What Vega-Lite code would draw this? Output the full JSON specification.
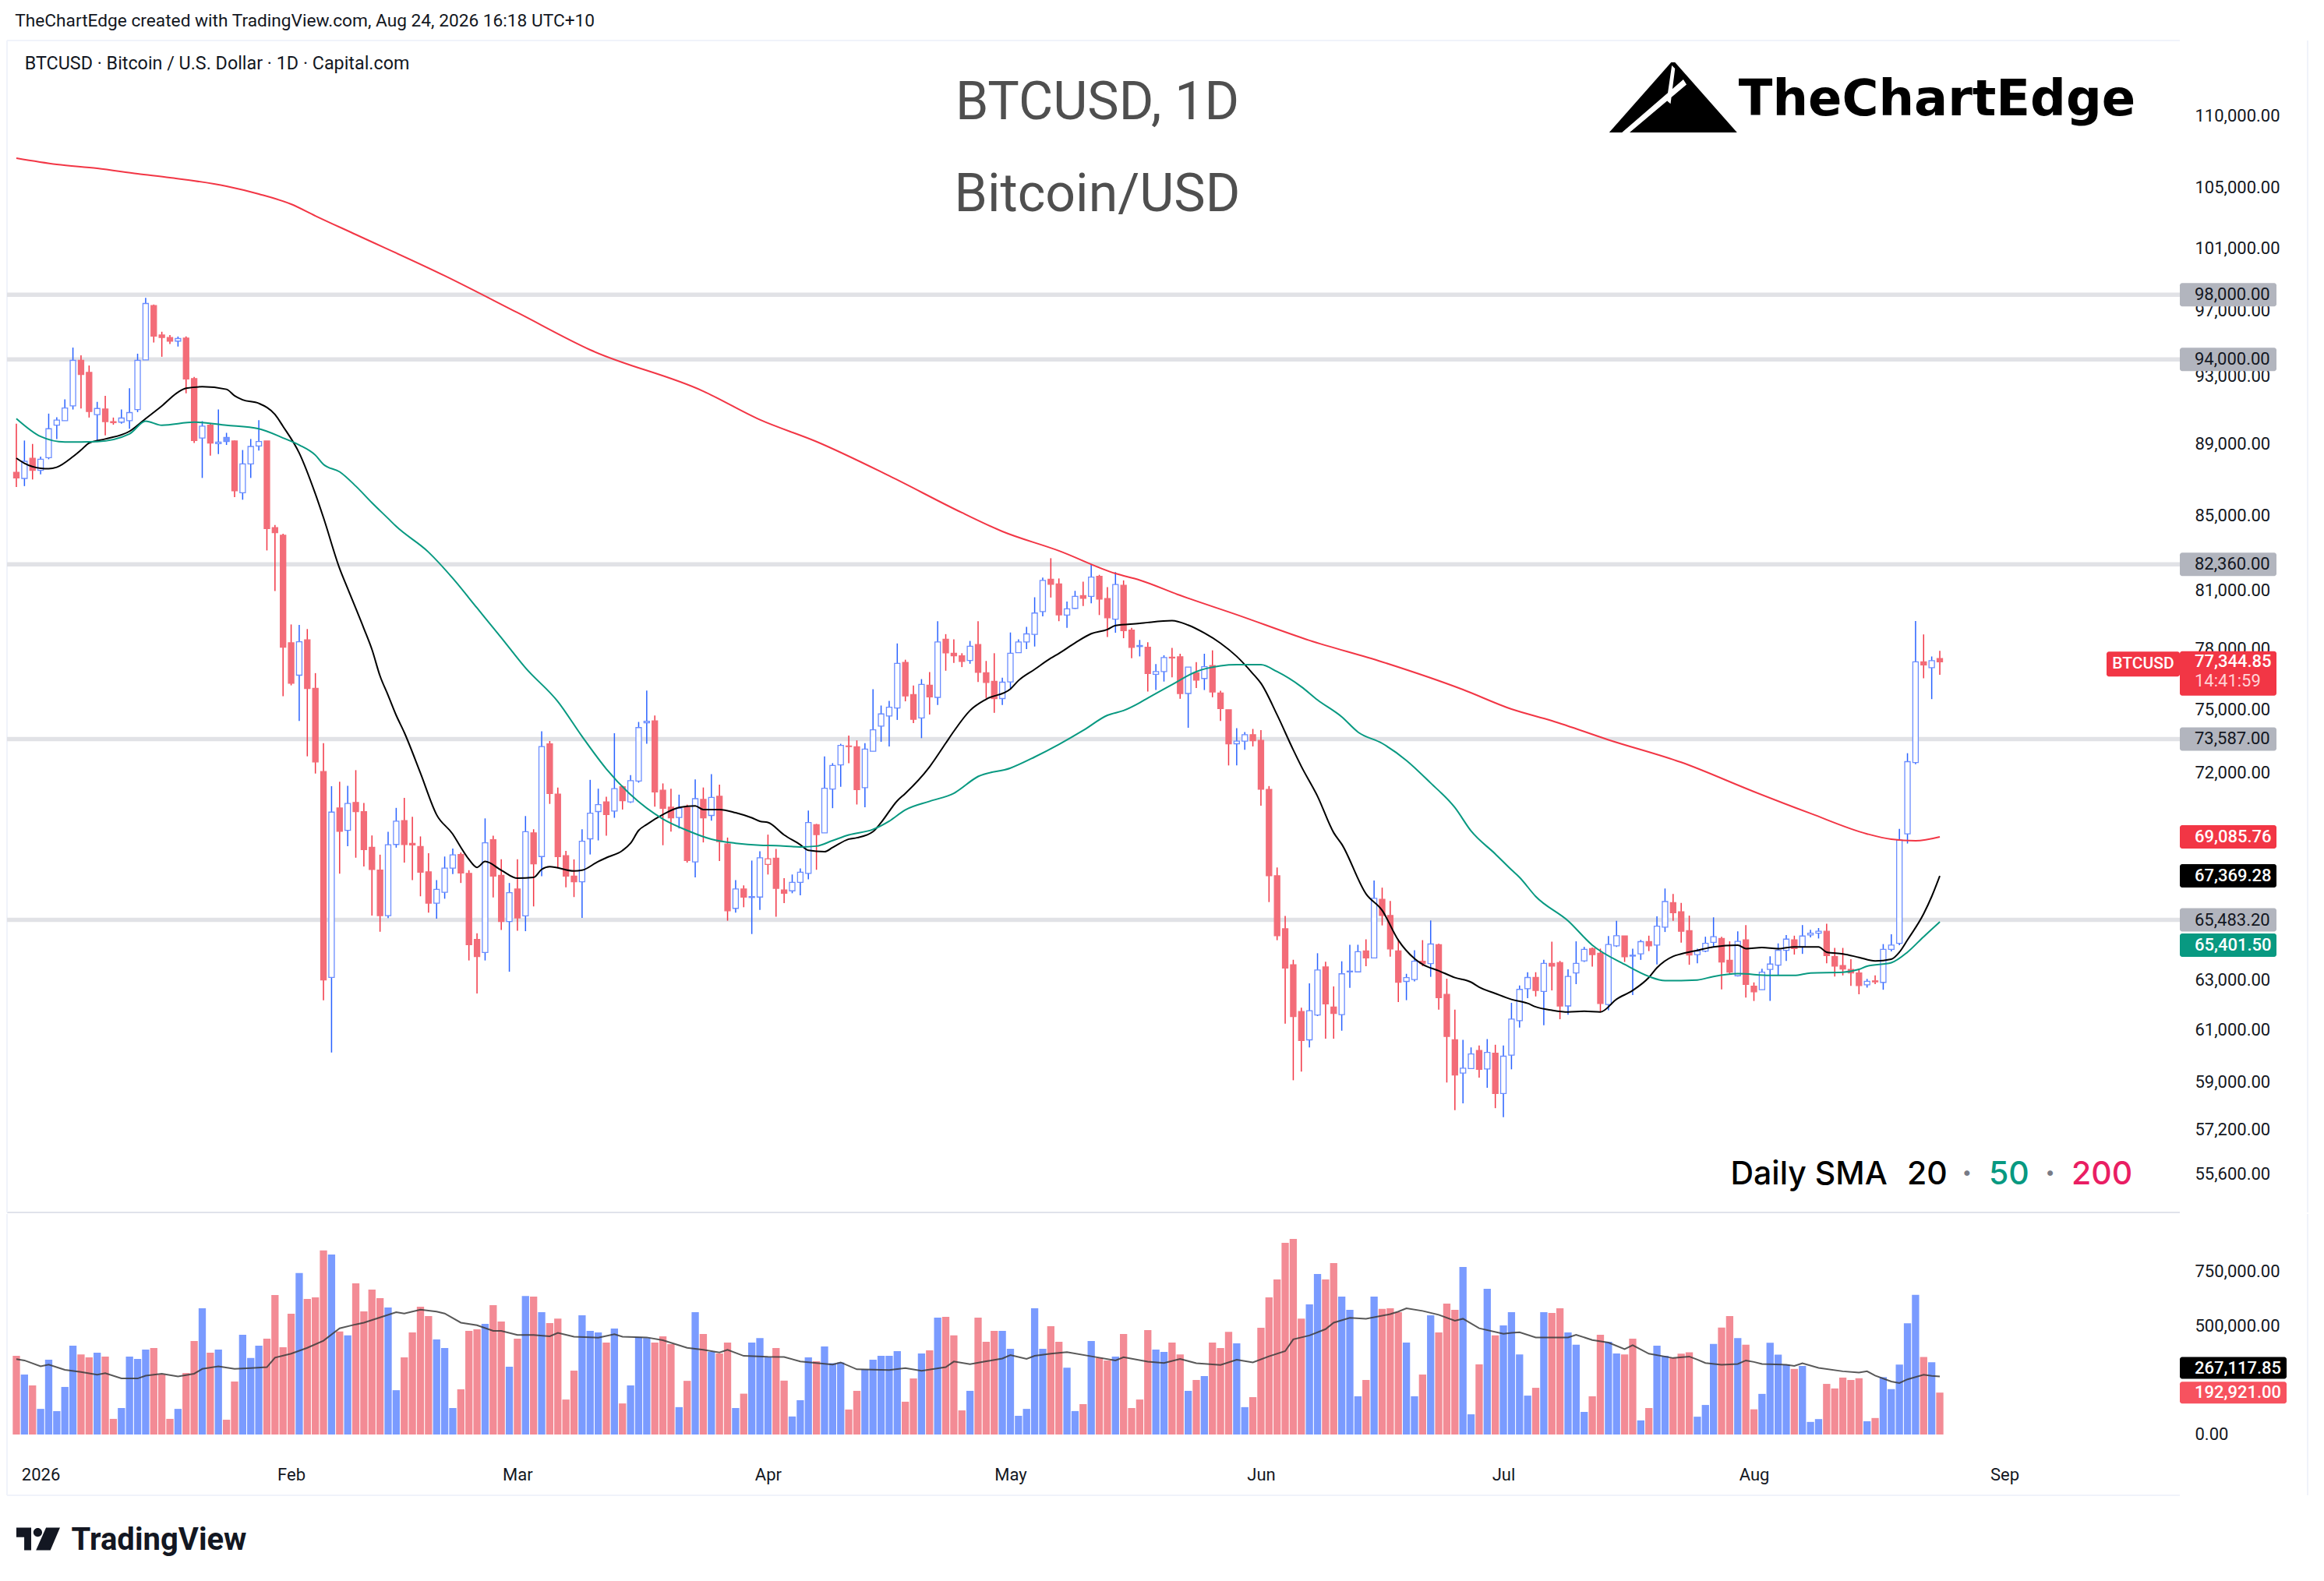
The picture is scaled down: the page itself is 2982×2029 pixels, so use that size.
{
  "$schema": "https://vega.github.io/schema/vega-lite/v6.json",
  "background": "#ffffff",
  "padding": {"left": 6, "top": 16, "right": 0, "bottom": 0},
  "title": {"text": "TheChartEdge created with TradingView.com, Aug 24, 2026 16:18 UTC+10", "anchor": "start", "dx": 13, "offset": 12, "fontSize": 22.7, "fontWeight": "normal", "font": "Roboto", "color": "#131722"},
  "config": {"view": {"stroke": null}, "font": "Roboto", "tick": {"opacity": 1}, "text": {"font": "Roboto"}},
  "datasets": {
    "levels": [
      {"price": 98000}, {"price": 94000}, {"price": 82360}, {"price": 73587}, {"price": 65483.2}
    ],
    "ohlc": [
      {"date":"2025-12-29","open":87400,"high":90180,"low":86570,"close":87080,"volume":362000},
      {"date":"2025-12-30","open":87053,"high":89207,"low":86623,"close":88021,"volume":276000},
      {"date":"2025-12-31","open":88196,"high":89011,"low":86995,"close":87511,"volume":226000},
      {"date":"2026-01-01","open":87511,"high":88283,"low":87282,"close":88138,"volume":118000},
      {"date":"2026-01-02","open":88225,"high":90768,"low":88138,"close":89887,"volume":344000},
      {"date":"2026-01-03","open":90094,"high":90557,"low":89296,"close":90390,"volume":108000},
      {"date":"2026-01-04","open":90360,"high":91610,"low":90360,"close":91099,"volume":219000},
      {"date":"2026-01-05","open":91219,"high":94717,"low":91009,"close":93940,"volume":409000},
      {"date":"2026-01-06","open":93940,"high":94251,"low":91069,"close":93090,"volume":369000},
      {"date":"2026-01-07","open":93212,"high":93629,"low":90539,"close":90889,"volume":355000},
      {"date":"2026-01-08","open":90708,"high":91460,"low":89148,"close":91069,"volume":377000},
      {"date":"2026-01-09","open":91039,"high":91821,"low":89503,"close":90300,"volume":359000},
      {"date":"2026-01-10","open":90300,"high":90539,"low":90124,"close":90242,"volume":72000},
      {"date":"2026-01-11","open":90271,"high":91009,"low":90183,"close":90509,"volume":122000},
      {"date":"2026-01-12","open":90360,"high":92264,"low":89887,"close":90828,"volume":359000},
      {"date":"2026-01-13","open":91009,"high":94345,"low":90858,"close":93940,"volume":348000},
      {"date":"2026-01-14","open":93971,"high":97802,"low":93971,"close":97449,"volume":391000},
      {"date":"2026-01-15","open":97320,"high":97384,"low":95028,"close":95426,"volume":398000},
      {"date":"2026-01-16","open":95489,"high":95690,"low":94158,"close":95333,"volume":276000},
      {"date":"2026-01-17","open":95333,"high":95489,"low":94935,"close":95115,"volume":72000},
      {"date":"2026-01-18","open":95115,"high":95396,"low":94780,"close":95271,"volume":118000},
      {"date":"2026-01-19","open":95302,"high":95396,"low":91971,"close":92815,"volume":283000},
      {"date":"2026-01-20","open":92845,"high":92937,"low":89062,"close":89207,"volume":430000},
      {"date":"2026-01-21","open":89354,"high":90330,"low":87081,"close":90035,"volume":581000},
      {"date":"2026-01-22","open":90094,"high":90183,"low":88342,"close":89062,"volume":377000},
      {"date":"2026-01-23","open":89032,"high":91009,"low":88429,"close":89120,"volume":391000},
      {"date":"2026-01-24","open":89384,"high":89650,"low":88953,"close":89148,"volume":68000},
      {"date":"2026-01-25","open":89178,"high":89207,"low":86008,"close":86366,"volume":244000},
      {"date":"2026-01-26","open":86250,"high":88662,"low":85866,"close":87876,"volume":459000},
      {"date":"2026-01-27","open":87876,"high":89296,"low":87081,"close":88866,"volume":352000},
      {"date":"2026-01-28","open":88895,"high":90390,"low":88633,"close":89148,"volume":409000},
      {"date":"2026-01-29","open":89178,"high":89178,"low":83103,"close":84280,"volume":441000},
      {"date":"2026-01-30","open":84335,"high":84474,"low":80951,"close":84058,"volume":642000},
      {"date":"2026-01-31","open":83920,"high":84003,"low":75650,"close":78072,"volume":402000},
      {"date":"2026-02-01","open":78295,"high":79229,"low":76178,"close":76278,"volume":556000},
      {"date":"2026-02-02","open":76680,"high":79203,"low":74448,"close":78346,"volume":743000},
      {"date":"2026-02-03","open":78449,"high":78996,"low":72770,"close":76028,"volume":624000},
      {"date":"2026-02-04","open":76028,"high":76781,"low":71967,"close":72507,"volume":631000},
      {"date":"2026-02-05","open":72061,"high":73386,"low":62173,"close":62998,"volume":847000},
      {"date":"2026-02-06","open":63102,"high":71378,"low":60120,"close":70198,"volume":829000},
      {"date":"2026-02-07","open":70383,"high":71591,"low":67469,"close":69332,"volume":474000},
      {"date":"2026-02-08","open":69378,"high":71402,"low":68672,"close":70592,"volume":456000},
      {"date":"2026-02-09","open":70638,"high":72124,"low":68164,"close":70221,"volume":696000},
      {"date":"2026-02-10","open":70221,"high":70615,"low":67783,"close":68522,"volume":567000},
      {"date":"2026-02-11","open":68626,"high":69150,"low":65666,"close":67648,"volume":667000},
      {"date":"2026-02-12","open":67626,"high":68298,"low":64986,"close":65666,"volume":628000},
      {"date":"2026-02-13","open":65666,"high":69311,"low":65560,"close":68737,"volume":585000},
      {"date":"2026-02-14","open":68750,"high":70390,"low":68608,"close":69787,"volume":204000},
      {"date":"2026-02-15","open":69812,"high":70847,"low":67949,"close":68750,"volume":355000},
      {"date":"2026-02-16","open":68800,"high":69988,"low":67184,"close":68730,"volume":470000},
      {"date":"2026-02-17","open":68661,"high":69107,"low":66490,"close":67531,"volume":588000},
      {"date":"2026-02-18","open":67549,"high":68359,"low":65788,"close":66195,"volume":545000},
      {"date":"2026-02-19","open":66195,"high":67184,"low":65534,"close":66785,"volume":438000},
      {"date":"2026-02-20","open":66660,"high":68216,"low":66385,"close":67705,"volume":398000},
      {"date":"2026-02-21","open":67705,"high":68570,"low":67445,"close":68289,"volume":122000},
      {"date":"2026-02-22","open":68307,"high":68393,"low":67063,"close":67497,"volume":208000},
      {"date":"2026-02-23","open":67480,"high":67618,"low":63794,"close":64451,"volume":477000},
      {"date":"2026-02-24","open":64667,"high":64925,"low":62452,"close":63958,"volume":484000},
      {"date":"2026-02-25","open":64123,"high":69915,"low":63794,"close":68822,"volume":509000},
      {"date":"2026-02-26","open":68963,"high":69142,"low":66439,"close":67358,"volume":595000},
      {"date":"2026-02-27","open":67393,"high":68092,"low":65061,"close":65416,"volume":520000},
      {"date":"2026-02-28","open":65416,"high":67063,"low":63332,"close":66643,"volume":312000},
      {"date":"2026-03-01","open":66803,"high":68092,"low":65027,"close":65568,"volume":441000},
      {"date":"2026-03-02","open":65653,"high":70021,"low":65010,"close":69320,"volume":638000},
      {"date":"2026-03-03","open":69267,"high":69427,"low":66056,"close":67896,"volume":635000},
      {"date":"2026-03-04","open":68216,"high":73958,"low":67358,"close":73227,"volume":563000},
      {"date":"2026-03-05","open":73361,"high":73491,"low":70571,"close":71048,"volume":513000},
      {"date":"2026-03-06","open":71015,"high":71322,"low":67705,"close":68216,"volume":534000},
      {"date":"2026-03-07","open":68252,"high":68465,"low":66872,"close":67358,"volume":161000},
      {"date":"2026-03-08","open":67358,"high":68092,"low":66457,"close":67115,"volume":294000},
      {"date":"2026-03-09","open":67115,"high":69427,"low":65568,"close":68893,"volume":549000},
      {"date":"2026-03-10","open":69000,"high":71674,"low":68307,"close":70152,"volume":477000},
      {"date":"2026-03-11","open":70225,"high":71267,"low":68929,"close":70536,"volume":470000},
      {"date":"2026-03-12","open":70664,"high":70902,"low":69142,"close":70085,"volume":423000},
      {"date":"2026-03-13","open":70244,"high":73862,"low":69941,"close":71267,"volume":488000},
      {"date":"2026-03-14","open":71358,"high":71413,"low":70316,"close":70719,"volume":143000},
      {"date":"2026-03-15","open":70664,"high":71898,"low":70610,"close":71636,"volume":226000},
      {"date":"2026-03-16","open":71618,"high":74401,"low":71545,"close":74131,"volume":448000},
      {"date":"2026-03-17","open":74365,"high":75918,"low":73362,"close":74438,"volume":444000},
      {"date":"2026-03-18","open":74456,"high":74708,"low":70445,"close":71121,"volume":423000},
      {"date":"2026-03-19","open":71194,"high":71509,"low":68715,"close":70371,"volume":452000},
      {"date":"2026-03-20","open":70426,"high":71267,"low":69320,"close":69941,"volume":416000},
      {"date":"2026-03-21","open":69959,"high":70993,"low":69463,"close":70371,"volume":126000},
      {"date":"2026-03-22","open":70408,"high":70536,"low":67949,"close":68039,"volume":247000},
      {"date":"2026-03-23","open":67984,"high":71693,"low":67306,"close":70810,"volume":563000},
      {"date":"2026-03-24","open":70774,"high":71322,"low":68840,"close":69941,"volume":463000},
      {"date":"2026-03-25","open":70048,"high":71935,"low":69812,"close":70865,"volume":380000},
      {"date":"2026-03-26","open":70920,"high":71450,"low":68021,"close":68876,"volume":373000},
      {"date":"2026-03-27","open":68769,"high":69056,"low":65450,"close":65873,"volume":423000},
      {"date":"2026-03-28","open":65974,"high":67184,"low":65788,"close":66803,"volume":122000},
      {"date":"2026-03-29","open":66803,"high":66959,"low":66022,"close":66457,"volume":188000},
      {"date":"2026-03-30","open":66439,"high":68039,"low":64891,"close":66474,"volume":423000},
      {"date":"2026-03-31","open":66457,"high":68445,"low":65906,"close":68160,"volume":444000},
      {"date":"2026-04-01","open":67871,"high":69187,"low":67430,"close":68120,"volume":355000},
      {"date":"2026-04-02","open":68143,"high":68552,"low":65621,"close":66833,"volume":398000},
      {"date":"2026-04-03","open":66763,"high":67271,"low":66195,"close":66620,"volume":248000},
      {"date":"2026-04-04","open":66724,"high":67430,"low":66620,"close":67093,"volume":83000},
      {"date":"2026-04-05","open":67093,"high":67697,"low":66529,"close":67527,"volume":158000},
      {"date":"2026-04-06","open":67478,"high":70273,"low":67222,"close":69730,"volume":355000},
      {"date":"2026-04-07","open":69629,"high":69667,"low":67636,"close":69187,"volume":337000},
      {"date":"2026-04-08","open":69263,"high":72763,"low":69263,"close":71289,"volume":405000},
      {"date":"2026-04-09","open":71251,"high":72450,"low":70377,"close":72345,"volume":328000},
      {"date":"2026-04-10","open":72371,"high":73361,"low":71354,"close":73282,"volume":332000},
      {"date":"2026-04-11","open":73256,"high":73749,"low":72450,"close":73230,"volume":115000},
      {"date":"2026-04-12","open":73216,"high":73522,"low":70544,"close":71225,"volume":201000},
      {"date":"2026-04-13","open":71315,"high":73389,"low":70417,"close":73111,"volume":300000},
      {"date":"2026-04-14","open":73006,"high":75989,"low":73006,"close":74028,"volume":344000},
      {"date":"2026-04-15","open":74203,"high":75193,"low":73455,"close":74786,"volume":362000},
      {"date":"2026-04-16","open":74690,"high":75423,"low":73230,"close":75112,"volume":362000},
      {"date":"2026-04-17","open":75071,"high":78265,"low":74499,"close":77267,"volume":384000},
      {"date":"2026-04-18","open":77308,"high":77448,"low":75397,"close":75657,"volume":151000},
      {"date":"2026-04-19","open":75725,"high":76166,"low":74350,"close":74526,"volume":258000},
      {"date":"2026-04-20","open":74593,"high":76486,"low":73629,"close":76221,"volume":373000},
      {"date":"2026-04-21","open":76180,"high":76831,"low":74759,"close":75616,"volume":387000},
      {"date":"2026-04-22","open":75589,"high":79396,"low":75220,"close":78338,"volume":538000},
      {"date":"2026-04-23","open":78474,"high":78736,"low":76900,"close":77787,"volume":542000},
      {"date":"2026-04-24","open":77773,"high":78474,"low":77289,"close":77647,"volume":456000},
      {"date":"2026-04-25","open":77647,"high":77773,"low":77081,"close":77358,"volume":111000},
      {"date":"2026-04-26","open":77413,"high":78391,"low":77247,"close":78124,"volume":201000},
      {"date":"2026-04-27","open":78208,"high":79396,"low":76348,"close":76817,"volume":538000},
      {"date":"2026-04-28","open":76803,"high":77386,"low":75559,"close":76320,"volume":427000},
      {"date":"2026-04-29","open":76375,"high":77773,"low":74840,"close":75532,"volume":477000},
      {"date":"2026-04-30","open":75532,"high":76555,"low":75220,"close":76334,"volume":477000},
      {"date":"2026-05-01","open":76348,"high":78820,"low":76042,"close":77773,"volume":395000},
      {"date":"2026-05-02","open":77801,"high":78474,"low":77801,"close":78338,"volume":86000},
      {"date":"2026-05-03","open":78338,"high":79108,"low":77984,"close":78750,"volume":118000},
      {"date":"2026-05-04","open":78722,"high":80631,"low":78110,"close":79815,"volume":581000},
      {"date":"2026-05-05","open":79887,"high":81658,"low":79640,"close":81513,"volume":395000},
      {"date":"2026-05-06","open":81571,"high":82687,"low":80617,"close":81310,"volume":499000},
      {"date":"2026-05-07","open":81324,"high":81615,"low":79396,"close":79725,"volume":427000},
      {"date":"2026-05-08","open":79711,"high":80404,"low":79053,"close":80027,"volume":308000},
      {"date":"2026-05-09","open":80056,"high":80966,"low":80027,"close":80677,"volume":108000},
      {"date":"2026-05-10","open":80720,"high":81441,"low":80173,"close":80575,"volume":140000},
      {"date":"2026-05-11","open":80677,"high":82358,"low":80317,"close":81687,"volume":430000},
      {"date":"2026-05-12","open":81731,"high":81805,"low":79711,"close":80532,"volume":352000},
      {"date":"2026-05-13","open":80561,"high":81155,"low":78595,"close":79568,"volume":341000},
      {"date":"2026-05-14","open":79497,"high":81950,"low":78805,"close":81300,"volume":359000},
      {"date":"2026-05-15","open":81257,"high":81513,"low":78529,"close":78918,"volume":463000},
      {"date":"2026-05-16","open":78946,"high":79053,"low":77523,"close":78068,"volume":122000},
      {"date":"2026-05-17","open":78160,"high":78442,"low":77614,"close":78110,"volume":161000},
      {"date":"2026-05-18","open":78074,"high":78326,"low":75874,"close":76761,"volume":481000},
      {"date":"2026-05-19","open":76723,"high":77232,"low":75949,"close":76855,"volume":391000},
      {"date":"2026-05-20","open":76855,"high":77670,"low":76365,"close":77555,"volume":380000},
      {"date":"2026-05-21","open":77574,"high":78037,"low":76572,"close":77536,"volume":423000},
      {"date":"2026-05-22","open":77594,"high":77746,"low":75521,"close":75780,"volume":369000},
      {"date":"2026-05-23","open":75780,"high":77083,"low":74122,"close":77083,"volume":201000},
      {"date":"2026-05-24","open":76799,"high":77327,"low":76044,"close":76440,"volume":251000},
      {"date":"2026-05-25","open":76516,"high":77746,"low":75949,"close":77102,"volume":269000},
      {"date":"2026-05-26","open":77159,"high":77918,"low":75595,"close":75855,"volume":423000},
      {"date":"2026-05-27","open":75799,"high":75911,"low":74447,"close":75043,"volume":398000},
      {"date":"2026-05-28","open":74988,"high":74988,"low":72344,"close":73363,"volume":473000},
      {"date":"2026-05-29","open":73363,"high":74105,"low":72344,"close":73489,"volume":420000},
      {"date":"2026-05-30","open":73489,"high":73922,"low":73074,"close":73795,"volume":126000},
      {"date":"2026-05-31","open":73795,"high":74067,"low":73237,"close":73507,"volume":172000},
      {"date":"2026-06-01","open":73525,"high":74013,"low":70493,"close":71246,"volume":491000},
      {"date":"2026-06-02","open":71228,"high":71387,"low":66242,"close":67375,"volume":631000},
      {"date":"2026-06-03","open":67375,"high":67736,"low":64633,"close":64824,"volume":714000},
      {"date":"2026-06-04","open":65110,"high":65652,"low":61242,"close":63481,"volume":882000},
      {"date":"2026-06-05","open":63621,"high":63822,"low":59051,"close":61530,"volume":900000},
      {"date":"2026-06-06","open":61727,"high":61878,"low":59383,"close":60581,"volume":534000},
      {"date":"2026-06-07","open":60610,"high":62860,"low":60316,"close":61757,"volume":599000},
      {"date":"2026-06-08","open":61591,"high":64092,"low":61546,"close":63404,"volume":739000},
      {"date":"2026-06-09","open":63528,"high":63745,"low":60654,"close":62030,"volume":714000},
      {"date":"2026-06-10","open":61908,"high":62736,"low":60654,"close":61652,"volume":789000},
      {"date":"2026-06-11","open":61606,"high":63760,"low":60969,"close":63247,"volume":635000},
      {"date":"2026-06-12","open":63326,"high":64443,"low":62674,"close":63357,"volume":574000},
      {"date":"2026-06-13","open":63326,"high":64443,"low":63326,"close":64157,"volume":176000},
      {"date":"2026-06-14","open":64188,"high":64666,"low":63559,"close":63900,"volume":251000},
      {"date":"2026-06-15","open":63900,"high":67174,"low":63900,"close":66405,"volume":635000},
      {"date":"2026-06-16","open":66357,"high":66861,"low":65253,"close":65672,"volume":578000},
      {"date":"2026-06-17","open":65672,"high":66292,"low":63947,"close":64268,"volume":581000},
      {"date":"2026-06-18","open":64188,"high":64666,"low":62105,"close":62907,"volume":563000},
      {"date":"2026-06-19","open":62938,"high":63247,"low":62181,"close":63093,"volume":423000},
      {"date":"2026-06-20","open":63015,"high":64220,"low":62938,"close":63760,"volume":176000},
      {"date":"2026-06-21","open":63760,"high":64635,"low":63559,"close":63667,"volume":276000},
      {"date":"2026-06-22","open":63667,"high":65460,"low":63124,"close":64474,"volume":549000},
      {"date":"2026-06-23","open":64443,"high":64489,"low":61804,"close":62286,"volume":470000},
      {"date":"2026-06-24","open":62412,"high":63046,"low":58965,"close":60742,"volume":603000},
      {"date":"2026-06-25","open":60610,"high":61804,"low":57926,"close":59253,"volume":574000},
      {"date":"2026-06-26","open":59325,"high":60610,"low":58180,"close":59512,"volume":771000},
      {"date":"2026-06-27","open":59498,"high":60316,"low":59498,"close":60063,"volume":93000},
      {"date":"2026-06-28","open":60196,"high":60390,"low":59152,"close":59469,"volume":323000},
      {"date":"2026-06-29","open":59484,"high":60640,"low":58764,"close":60121,"volume":671000},
      {"date":"2026-06-30","open":60092,"high":60419,"low":57998,"close":58546,"volume":456000},
      {"date":"2026-07-01","open":58546,"high":60390,"low":57658,"close":59974,"volume":502000},
      {"date":"2026-07-02","open":60018,"high":62076,"low":59469,"close":61424,"volume":563000},
      {"date":"2026-07-03","open":61365,"high":62771,"low":61093,"close":62615,"volume":369000},
      {"date":"2026-07-04","open":62643,"high":63312,"low":62260,"close":63096,"volume":179000},
      {"date":"2026-07-05","open":63096,"high":63312,"low":62330,"close":62573,"volume":215000},
      {"date":"2026-07-06","open":62531,"high":63818,"low":61184,"close":63674,"volume":563000},
      {"date":"2026-07-07","open":63674,"high":64572,"low":62573,"close":63559,"volume":560000},
      {"date":"2026-07-08","open":63703,"high":63775,"low":61421,"close":61950,"volume":581000},
      {"date":"2026-07-09","open":61950,"high":63428,"low":61600,"close":63139,"volume":470000},
      {"date":"2026-07-10","open":63283,"high":64586,"low":62827,"close":63674,"volume":413000},
      {"date":"2026-07-11","open":63775,"high":64355,"low":63732,"close":64254,"volume":104000},
      {"date":"2026-07-12","open":64283,"high":64326,"low":63544,"close":64036,"volume":176000},
      {"date":"2026-07-13","open":64094,"high":64283,"low":61697,"close":62049,"volume":459000},
      {"date":"2026-07-14","open":62007,"high":64807,"low":61780,"close":64456,"volume":427000},
      {"date":"2026-07-15","open":64398,"high":65445,"low":64355,"close":64822,"volume":373000},
      {"date":"2026-07-16","open":64807,"high":64807,"low":63732,"close":63950,"volume":369000},
      {"date":"2026-07-17","open":64010,"high":64283,"low":62388,"close":63975,"volume":441000},
      {"date":"2026-07-18","open":64065,"high":64645,"low":63818,"close":64572,"volume":65000},
      {"date":"2026-07-19","open":64572,"high":64822,"low":64181,"close":64398,"volume":122000},
      {"date":"2026-07-20","open":64427,"high":65637,"low":63631,"close":65222,"volume":409000},
      {"date":"2026-07-21","open":65178,"high":66824,"low":64976,"close":66264,"volume":362000},
      {"date":"2026-07-22","open":66219,"high":66590,"low":65445,"close":65788,"volume":352000},
      {"date":"2026-07-23","open":65831,"high":66204,"low":64529,"close":65005,"volume":372000},
      {"date":"2026-07-24","open":65034,"high":65666,"low":63617,"close":64022,"volume":378000},
      {"date":"2026-07-25","open":64036,"high":64283,"low":63674,"close":64181,"volume":82000},
      {"date":"2026-07-26","open":64181,"high":64778,"low":64137,"close":64500,"volume":136000},
      {"date":"2026-07-27","open":64543,"high":65593,"low":64326,"close":64778,"volume":417000},
      {"date":"2026-07-28","open":64705,"high":64778,"low":62615,"close":63732,"volume":492000},
      {"date":"2026-07-29","open":63803,"high":64586,"low":63226,"close":63312,"volume":545000},
      {"date":"2026-07-30","open":63168,"high":65005,"low":63139,"close":64586,"volume":444000},
      {"date":"2026-07-31","open":64645,"high":65267,"low":62289,"close":62813,"volume":413000},
      {"date":"2026-08-01","open":62743,"high":62898,"low":62149,"close":62517,"volume":116000},
      {"date":"2026-08-02","open":62601,"high":63457,"low":62601,"close":63312,"volume":187000},
      {"date":"2026-08-03","open":63428,"high":63964,"low":62149,"close":63645,"volume":422000},
      {"date":"2026-08-04","open":63602,"high":64500,"low":63182,"close":64210,"volume":368000},
      {"date":"2026-08-05","open":64210,"high":64851,"low":63775,"close":64677,"volume":322000},
      {"date":"2026-08-06","open":64645,"high":64822,"low":64036,"close":64283,"volume":302000},
      {"date":"2026-08-07","open":64355,"high":65267,"low":64065,"close":64807,"volume":316000},
      {"date":"2026-08-08","open":64851,"high":65070,"low":64749,"close":64923,"volume":58000},
      {"date":"2026-08-09","open":64923,"high":65143,"low":64705,"close":65005,"volume":71000},
      {"date":"2026-08-10","open":65005,"high":65326,"low":63674,"close":63993,"volume":233000},
      {"date":"2026-08-11","open":63950,"high":64312,"low":63139,"close":63559,"volume":212000},
      {"date":"2026-08-12","open":63588,"high":64312,"low":63182,"close":63443,"volume":262000},
      {"date":"2026-08-13","open":63428,"high":63847,"low":62757,"close":63283,"volume":251000},
      {"date":"2026-08-14","open":63283,"high":63457,"low":62419,"close":62771,"volume":259000},
      {"date":"2026-08-15","open":62799,"high":63040,"low":62686,"close":62940,"volume":61000},
      {"date":"2026-08-16","open":62960,"high":63182,"low":62827,"close":62920,"volume":76000},
      {"date":"2026-08-17","open":62898,"high":64471,"low":62601,"close":64254,"volume":264000},
      {"date":"2026-08-18","open":64254,"high":64880,"low":64166,"close":64427,"volume":209000},
      {"date":"2026-08-19","open":64500,"high":69448,"low":64427,"close":68944,"volume":322000},
      {"date":"2026-08-20","open":69223,"high":72917,"low":68790,"close":72519,"volume":512000},
      {"date":"2026-08-21","open":72478,"high":79402,"low":72400,"close":77339,"volume":643000},
      {"date":"2026-08-22","open":77339,"high":78722,"low":76526,"close":77184,"volume":357000},
      {"date":"2026-08-23","open":77050,"high":77609,"low":75505,"close":77400,"volume":333000},
      {"date":"2026-08-24","open":77502,"high":77889,"low":76699,"close":77344.85,"volume":192921}
    ],
    "ma": [
      {"date":"2025-12-29","series":"SMA 20","value":88196},{"date":"2025-12-30","series":"SMA 20","value":87905},{"date":"2026-01-01","series":"SMA 20","value":87625},{"date":"2026-01-02","series":"SMA 20","value":87600},{"date":"2026-01-03","series":"SMA 20","value":87682},{"date":"2026-01-05","series":"SMA 20","value":88283},{"date":"2026-01-06","series":"SMA 20","value":88662},{"date":"2026-01-07","series":"SMA 20","value":89062},{"date":"2026-01-09","series":"SMA 20","value":89296},{"date":"2026-01-12","series":"SMA 20","value":89740},{"date":"2026-01-14","series":"SMA 20","value":90479},{"date":"2026-01-16","series":"SMA 20","value":91219},{"date":"2026-01-18","series":"SMA 20","value":92030},{"date":"2026-01-19","series":"SMA 20","value":92264},{"date":"2026-01-21","series":"SMA 20","value":92356},{"date":"2026-01-24","series":"SMA 20","value":92202},{"date":"2026-01-25","series":"SMA 20","value":91821},{"date":"2026-01-26","series":"SMA 20","value":91580},{"date":"2026-01-28","series":"SMA 20","value":91370},{"date":"2026-01-30","series":"SMA 20","value":90718},{"date":"2026-01-31","series":"SMA 20","value":90025},{"date":"2026-02-02","series":"SMA 20","value":88493},{"date":"2026-02-04","series":"SMA 20","value":86185},{"date":"2026-02-05","series":"SMA 20","value":84880},{"date":"2026-02-07","series":"SMA 20","value":82140},{"date":"2026-02-08","series":"SMA 20","value":81085},{"date":"2026-02-10","series":"SMA 20","value":79025},{"date":"2026-02-11","series":"SMA 20","value":77960},{"date":"2026-02-12","series":"SMA 20","value":76640},{"date":"2026-02-13","series":"SMA 20","value":75690},{"date":"2026-02-14","series":"SMA 20","value":74720},{"date":"2026-02-15","series":"SMA 20","value":73900},{"date":"2026-02-17","series":"SMA 20","value":71992},{"date":"2026-02-19","series":"SMA 20","value":70080},{"date":"2026-02-21","series":"SMA 20","value":69210},{"date":"2026-02-22","series":"SMA 20","value":68620},{"date":"2026-02-23","series":"SMA 20","value":68090},{"date":"2026-02-24","series":"SMA 20","value":67740},{"date":"2026-02-25","series":"SMA 20","value":67998},{"date":"2026-02-27","series":"SMA 20","value":67618},{"date":"2026-03-01","series":"SMA 20","value":67271},{"date":"2026-03-03","series":"SMA 20","value":67306},{"date":"2026-03-04","series":"SMA 20","value":67653},{"date":"2026-03-05","series":"SMA 20","value":67775},{"date":"2026-03-08","series":"SMA 20","value":67584},{"date":"2026-03-09","series":"SMA 20","value":67618},{"date":"2026-03-11","series":"SMA 20","value":67998},{"date":"2026-03-12","series":"SMA 20","value":68164},{"date":"2026-03-14","series":"SMA 20","value":68483},{"date":"2026-03-15","series":"SMA 20","value":68804},{"date":"2026-03-16","series":"SMA 20","value":69374},{"date":"2026-03-17","series":"SMA 20","value":69642},{"date":"2026-03-19","series":"SMA 20","value":70085},{"date":"2026-03-21","series":"SMA 20","value":70408},{"date":"2026-03-23","series":"SMA 20","value":70481},{"date":"2026-03-24","series":"SMA 20","value":70316},{"date":"2026-03-26","series":"SMA 20","value":70316},{"date":"2026-03-28","series":"SMA 20","value":70171},{"date":"2026-03-30","series":"SMA 20","value":69941},{"date":"2026-03-31","series":"SMA 20","value":69783},{"date":"2026-04-01","series":"SMA 20","value":69730},{"date":"2026-04-03","series":"SMA 20","value":69174},{"date":"2026-04-05","series":"SMA 20","value":68738},{"date":"2026-04-06","series":"SMA 20","value":68490},{"date":"2026-04-08","series":"SMA 20","value":68430},{"date":"2026-04-09","series":"SMA 20","value":68614},{"date":"2026-04-11","series":"SMA 20","value":68986},{"date":"2026-04-12","series":"SMA 20","value":69048},{"date":"2026-04-14","series":"SMA 20","value":69322},{"date":"2026-04-15","series":"SMA 20","value":69730},{"date":"2026-04-17","series":"SMA 20","value":70713},{"date":"2026-04-18","series":"SMA 20","value":71051},{"date":"2026-04-21","series":"SMA 20","value":72281},{"date":"2026-04-23","series":"SMA 20","value":73390},{"date":"2026-04-24","series":"SMA 20","value":73955},{"date":"2026-04-26","series":"SMA 20","value":74952},{"date":"2026-04-28","series":"SMA 20","value":75500},{"date":"2026-05-01","series":"SMA 20","value":76002},{"date":"2026-05-02","series":"SMA 20","value":76415},{"date":"2026-05-04","series":"SMA 20","value":76969},{"date":"2026-05-06","series":"SMA 20","value":77525},{"date":"2026-05-07","series":"SMA 20","value":77763},{"date":"2026-05-09","series":"SMA 20","value":78293},{"date":"2026-05-11","series":"SMA 20","value":78758},{"date":"2026-05-13","series":"SMA 20","value":78975},{"date":"2026-05-14","series":"SMA 20","value":79173},{"date":"2026-05-17","series":"SMA 20","value":79282},{"date":"2026-05-18","series":"SMA 20","value":79330},{"date":"2026-05-21","series":"SMA 20","value":79427},{"date":"2026-05-23","series":"SMA 20","value":79194},{"date":"2026-05-25","series":"SMA 20","value":78790},{"date":"2026-05-27","series":"SMA 20","value":78277},{"date":"2026-05-29","series":"SMA 20","value":77614},{"date":"2026-05-31","series":"SMA 20","value":76755},{"date":"2026-06-01","series":"SMA 20","value":76279},{"date":"2026-06-03","series":"SMA 20","value":74743},{"date":"2026-06-05","series":"SMA 20","value":73071},{"date":"2026-06-06","series":"SMA 20","value":72298},{"date":"2026-06-08","series":"SMA 20","value":70922},{"date":"2026-06-10","series":"SMA 20","value":69274},{"date":"2026-06-11","series":"SMA 20","value":68762},{"date":"2026-06-14","series":"SMA 20","value":66594},{"date":"2026-06-16","series":"SMA 20","value":65886},{"date":"2026-06-18","series":"SMA 20","value":64634},{"date":"2026-06-20","series":"SMA 20","value":63872},{"date":"2026-06-21","series":"SMA 20","value":63636},{"date":"2026-06-23","series":"SMA 20","value":63372},{"date":"2026-06-25","series":"SMA 20","value":63093},{"date":"2026-06-27","series":"SMA 20","value":62907},{"date":"2026-06-28","series":"SMA 20","value":62706},{"date":"2026-06-30","series":"SMA 20","value":62450},{"date":"2026-07-02","series":"SMA 20","value":62212},{"date":"2026-07-04","series":"SMA 20","value":62053},{"date":"2026-07-05","series":"SMA 20","value":61914},{"date":"2026-07-07","series":"SMA 20","value":61780},{"date":"2026-07-09","series":"SMA 20","value":61710},{"date":"2026-07-11","series":"SMA 20","value":61738},{"date":"2026-07-13","series":"SMA 20","value":61710},{"date":"2026-07-15","series":"SMA 20","value":62220},{"date":"2026-07-17","series":"SMA 20","value":62573},{"date":"2026-07-19","series":"SMA 20","value":63096},{"date":"2026-07-20","series":"SMA 20","value":63493},{"date":"2026-07-22","series":"SMA 20","value":63964},{"date":"2026-07-23","series":"SMA 20","value":64065},{"date":"2026-07-25","series":"SMA 20","value":64210},{"date":"2026-07-27","series":"SMA 20","value":64355},{"date":"2026-07-30","series":"SMA 20","value":64427},{"date":"2026-07-31","series":"SMA 20","value":64283},{"date":"2026-08-02","series":"SMA 20","value":64326},{"date":"2026-08-04","series":"SMA 20","value":64283},{"date":"2026-08-06","series":"SMA 20","value":64355},{"date":"2026-08-09","series":"SMA 20","value":64355},{"date":"2026-08-10","series":"SMA 20","value":64137},{"date":"2026-08-12","series":"SMA 20","value":64065},{"date":"2026-08-14","series":"SMA 20","value":63921},{"date":"2026-08-16","series":"SMA 20","value":63775},{"date":"2026-08-18","series":"SMA 20","value":63847},{"date":"2026-08-19","series":"SMA 20","value":64137},{"date":"2026-08-20","series":"SMA 20","value":64645},{"date":"2026-08-22","series":"SMA 20","value":65740},{"date":"2026-08-23","series":"SMA 20","value":66482},{"date":"2026-08-24","series":"SMA 20","value":67369.28},
      {"date":"2025-12-29","series":"SMA 50","value":90479},{"date":"2026-01-01","series":"SMA 50","value":89441},{"date":"2026-01-04","series":"SMA 50","value":89120},{"date":"2026-01-08","series":"SMA 50","value":89148},{"date":"2026-01-12","series":"SMA 50","value":89592},{"date":"2026-01-14","series":"SMA 50","value":90330},{"date":"2026-01-16","series":"SMA 50","value":90094},{"date":"2026-01-20","series":"SMA 50","value":90271},{"date":"2026-01-24","series":"SMA 50","value":90094},{"date":"2026-01-28","series":"SMA 50","value":89887},{"date":"2026-01-31","series":"SMA 50","value":89354},{"date":"2026-02-02","series":"SMA 50","value":88953},{"date":"2026-02-04","series":"SMA 50","value":88371},{"date":"2026-02-05","series":"SMA 50","value":87848},{"date":"2026-02-07","series":"SMA 50","value":87425},{"date":"2026-02-09","series":"SMA 50","value":86623},{"date":"2026-02-11","series":"SMA 50","value":85700},{"date":"2026-02-13","series":"SMA 50","value":84834},{"date":"2026-02-14","series":"SMA 50","value":84400},{"date":"2026-02-18","series":"SMA 50","value":83011},{"date":"2026-02-21","series":"SMA 50","value":81625},{"date":"2026-02-24","series":"SMA 50","value":80078},{"date":"2026-02-27","series":"SMA 50","value":78558},{"date":"2026-03-02","series":"SMA 50","value":77040},{"date":"2026-03-06","series":"SMA 50","value":75385},{"date":"2026-03-09","series":"SMA 50","value":73708},{"date":"2026-03-12","series":"SMA 50","value":72180},{"date":"2026-03-15","series":"SMA 50","value":70993},{"date":"2026-03-19","series":"SMA 50","value":69887},{"date":"2026-03-22","series":"SMA 50","value":69374},{"date":"2026-03-25","series":"SMA 50","value":68983},{"date":"2026-03-28","series":"SMA 50","value":68804},{"date":"2026-03-31","series":"SMA 50","value":68715},{"date":"2026-04-02","series":"SMA 50","value":68700},{"date":"2026-04-05","series":"SMA 50","value":68640},{"date":"2026-04-07","series":"SMA 50","value":68676},{"date":"2026-04-09","series":"SMA 50","value":68924},{"date":"2026-04-11","series":"SMA 50","value":69173},{"date":"2026-04-14","series":"SMA 50","value":69420},{"date":"2026-04-16","series":"SMA 50","value":69790},{"date":"2026-04-18","series":"SMA 50","value":70298},{"date":"2026-04-21","series":"SMA 50","value":70690},{"date":"2026-04-24","series":"SMA 50","value":71058},{"date":"2026-04-27","series":"SMA 50","value":71830},{"date":"2026-05-01","series":"SMA 50","value":72220},{"date":"2026-05-04","series":"SMA 50","value":72738},{"date":"2026-05-07","series":"SMA 50","value":73330},{"date":"2026-05-10","series":"SMA 50","value":73993},{"date":"2026-05-13","series":"SMA 50","value":74720},{"date":"2026-05-15","series":"SMA 50","value":74950},{"date":"2026-05-17","series":"SMA 50","value":75330},{"date":"2026-05-18","series":"SMA 50","value":75558},{"date":"2026-05-21","series":"SMA 50","value":76216},{"date":"2026-05-24","series":"SMA 50","value":76855},{"date":"2026-05-27","series":"SMA 50","value":77140},{"date":"2026-05-29","series":"SMA 50","value":77197},{"date":"2026-06-01","series":"SMA 50","value":77197},{"date":"2026-06-03","series":"SMA 50","value":76855},{"date":"2026-06-06","series":"SMA 50","value":76110},{"date":"2026-06-08","series":"SMA 50","value":75466},{"date":"2026-06-11","series":"SMA 50","value":74645},{"date":"2026-06-13","series":"SMA 50","value":73920},{"date":"2026-06-16","series":"SMA 50","value":73381},{"date":"2026-06-19","series":"SMA 50","value":72578},{"date":"2026-06-22","series":"SMA 50","value":71528},{"date":"2026-06-25","series":"SMA 50","value":70405},{"date":"2026-06-27","series":"SMA 50","value":69350},{"date":"2026-06-30","series":"SMA 50","value":68330},{"date":"2026-07-02","series":"SMA 50","value":67634},{"date":"2026-07-03","series":"SMA 50","value":67306},{"date":"2026-07-05","series":"SMA 50","value":66482},{"date":"2026-07-09","series":"SMA 50","value":65445},{"date":"2026-07-12","series":"SMA 50","value":64427},{"date":"2026-07-16","series":"SMA 50","value":63631},{"date":"2026-07-19","series":"SMA 50","value":63139},{"date":"2026-07-21","series":"SMA 50","value":62969},{"date":"2026-07-25","series":"SMA 50","value":62997},{"date":"2026-07-27","series":"SMA 50","value":63139},{"date":"2026-07-30","series":"SMA 50","value":63252},{"date":"2026-08-03","series":"SMA 50","value":63182},{"date":"2026-08-06","series":"SMA 50","value":63182},{"date":"2026-08-08","series":"SMA 50","value":63283},{"date":"2026-08-12","series":"SMA 50","value":63312},{"date":"2026-08-14","series":"SMA 50","value":63428},{"date":"2026-08-15","series":"SMA 50","value":63559},{"date":"2026-08-18","series":"SMA 50","value":63703},{"date":"2026-08-20","series":"SMA 50","value":64137},{"date":"2026-08-22","series":"SMA 50","value":64778},{"date":"2026-08-24","series":"SMA 50","value":65401.5},
      {"date":"2025-12-29","series":"SMA 200","value":107024},{"date":"2026-01-03","series":"SMA 200","value":106593},{"date":"2026-01-08","series":"SMA 200","value":106326},{"date":"2026-01-13","series":"SMA 200","value":105952},{"date":"2026-01-17","series":"SMA 200","value":105687},{"date":"2026-01-24","series":"SMA 200","value":105105},{"date":"2026-01-28","series":"SMA 200","value":104578},{"date":"2026-02-01","series":"SMA 200","value":103897},{"date":"2026-02-04","series":"SMA 200","value":103115},{"date":"2026-02-09","series":"SMA 200","value":101881},{"date":"2026-02-20","series":"SMA 200","value":99209},{"date":"2026-03-01","series":"SMA 200","value":96877},{"date":"2026-03-10","series":"SMA 200","value":94580},{"date":"2026-03-24","series":"SMA 200","value":92091},{"date":"2026-03-31","series":"SMA 200","value":90411},{"date":"2026-04-07","series":"SMA 200","value":89144},{"date":"2026-04-16","series":"SMA 200","value":87200},{"date":"2026-04-25","series":"SMA 200","value":85152},{"date":"2026-04-30","series":"SMA 200","value":84130},{"date":"2026-05-07","series":"SMA 200","value":83085},{"date":"2026-05-14","series":"SMA 200","value":81876},{"date":"2026-05-17","series":"SMA 200","value":81530},{"date":"2026-05-22","series":"SMA 200","value":80730},{"date":"2026-05-29","series":"SMA 200","value":79730},{"date":"2026-06-07","series":"SMA 200","value":78420},{"date":"2026-06-16","series":"SMA 200","value":77340},{"date":"2026-06-26","series":"SMA 200","value":75970},{"date":"2026-07-02","series":"SMA 200","value":75020},{"date":"2026-07-07","series":"SMA 200","value":74460},{"date":"2026-07-14","series":"SMA 200","value":73550},{"date":"2026-07-23","series":"SMA 200","value":72490},{"date":"2026-08-01","series":"SMA 200","value":71130},{"date":"2026-08-08","series":"SMA 200","value":70140},{"date":"2026-08-15","series":"SMA 200","value":69220},{"date":"2026-08-18","series":"SMA 200","value":68980},{"date":"2026-08-21","series":"SMA 200","value":68910},{"date":"2026-08-24","series":"SMA 200","value":69085.76}
    ],
    "vma": [
      {"date":"2025-12-29","value":347000},{"date":"2025-12-30","value":341000},{"date":"2026-01-01","value":314000},{"date":"2026-01-02","value":322000},{"date":"2026-01-04","value":298000},{"date":"2026-01-06","value":288000},{"date":"2026-01-08","value":275000},{"date":"2026-01-09","value":282000},{"date":"2026-01-11","value":258000},{"date":"2026-01-13","value":258000},{"date":"2026-01-14","value":271000},{"date":"2026-01-16","value":280000},{"date":"2026-01-18","value":267000},{"date":"2026-01-20","value":280000},{"date":"2026-01-21","value":302000},{"date":"2026-01-23","value":314000},{"date":"2026-01-25","value":302000},{"date":"2026-01-27","value":306000},{"date":"2026-01-29","value":310000},{"date":"2026-01-30","value":354000},{"date":"2026-02-01","value":372000},{"date":"2026-02-03","value":399000},{"date":"2026-02-05","value":432000},{"date":"2026-02-07","value":489000},{"date":"2026-02-09","value":507000},{"date":"2026-02-10","value":515000},{"date":"2026-02-12","value":539000},{"date":"2026-02-14","value":563000},{"date":"2026-02-15","value":557000},{"date":"2026-02-17","value":575000},{"date":"2026-02-19","value":566000},{"date":"2026-02-20","value":557000},{"date":"2026-02-22","value":515000},{"date":"2026-02-24","value":503000},{"date":"2026-02-26","value":477000},{"date":"2026-02-27","value":477000},{"date":"2026-03-01","value":458000},{"date":"2026-03-03","value":458000},{"date":"2026-03-05","value":452000},{"date":"2026-03-06","value":468000},{"date":"2026-03-08","value":450000},{"date":"2026-03-11","value":446000},{"date":"2026-03-13","value":462000},{"date":"2026-03-14","value":450000},{"date":"2026-03-17","value":447000},{"date":"2026-03-19","value":434000},{"date":"2026-03-22","value":399000},{"date":"2026-03-24","value":390000},{"date":"2026-03-26","value":378000},{"date":"2026-03-27","value":390000},{"date":"2026-03-29","value":362000},{"date":"2026-04-01","value":358000},{"date":"2026-04-03","value":357000},{"date":"2026-04-05","value":336000},{"date":"2026-04-07","value":329000},{"date":"2026-04-09","value":322000},{"date":"2026-04-10","value":332000},{"date":"2026-04-12","value":300000},{"date":"2026-04-16","value":297000},{"date":"2026-04-18","value":306000},{"date":"2026-04-20","value":293000},{"date":"2026-04-23","value":310000},{"date":"2026-04-24","value":336000},{"date":"2026-04-26","value":324000},{"date":"2026-04-28","value":337000},{"date":"2026-04-30","value":350000},{"date":"2026-05-01","value":366000},{"date":"2026-05-03","value":348000},{"date":"2026-05-04","value":362000},{"date":"2026-05-06","value":372000},{"date":"2026-05-08","value":379000},{"date":"2026-05-11","value":360000},{"date":"2026-05-14","value":341000},{"date":"2026-05-15","value":356000},{"date":"2026-05-18","value":335000},{"date":"2026-05-20","value":329000},{"date":"2026-05-22","value":348000},{"date":"2026-05-24","value":328000},{"date":"2026-05-27","value":320000},{"date":"2026-05-29","value":344000},{"date":"2026-05-31","value":332000},{"date":"2026-06-02","value":360000},{"date":"2026-06-04","value":384000},{"date":"2026-06-05","value":438000},{"date":"2026-06-07","value":456000},{"date":"2026-06-09","value":485000},{"date":"2026-06-10","value":515000},{"date":"2026-06-12","value":537000},{"date":"2026-06-14","value":533000},{"date":"2026-06-17","value":554000},{"date":"2026-06-18","value":566000},{"date":"2026-06-19","value":581000},{"date":"2026-06-21","value":569000},{"date":"2026-06-23","value":551000},{"date":"2026-06-25","value":524000},{"date":"2026-06-26","value":533000},{"date":"2026-06-28","value":489000},{"date":"2026-07-01","value":464000},{"date":"2026-07-02","value":468000},{"date":"2026-07-03","value":471000},{"date":"2026-07-05","value":447000},{"date":"2026-07-09","value":447000},{"date":"2026-07-10","value":459000},{"date":"2026-07-12","value":435000},{"date":"2026-07-14","value":423000},{"date":"2026-07-16","value":393000},{"date":"2026-07-17","value":411000},{"date":"2026-07-19","value":372000},{"date":"2026-07-22","value":352000},{"date":"2026-07-24","value":359000},{"date":"2026-07-25","value":345000},{"date":"2026-07-26","value":329000},{"date":"2026-07-28","value":321000},{"date":"2026-07-30","value":325000},{"date":"2026-07-31","value":341000},{"date":"2026-08-01","value":334000},{"date":"2026-08-02","value":325000},{"date":"2026-08-05","value":321000},{"date":"2026-08-06","value":316000},{"date":"2026-08-07","value":328000},{"date":"2026-08-09","value":307000},{"date":"2026-08-12","value":291000},{"date":"2026-08-14","value":285000},{"date":"2026-08-15","value":291000},{"date":"2026-08-16","value":271000},{"date":"2026-08-18","value":244000},{"date":"2026-08-19","value":237000},{"date":"2026-08-20","value":254000},{"date":"2026-08-22","value":275000},{"date":"2026-08-23","value":270000},{"date":"2026-08-24","value":267117.85}
    ]
  },
  "spacing": 0,
  "resolve": {"scale": {"x": "independent", "y": "independent", "color": "independent"}, "axis": {"x": "independent", "y": "independent"}},
  "vconcat": [
    {
      "width": 2788,
      "height": 1504,
      "layer": [
        {
          "data": {"values": [{}]},
          "mark": {"type": "rule", "color": "#f0f3fa", "strokeWidth": 2, "x2Offset": 164},
          "encoding": {"y": {"datum": 115460, "type": "quantitative", "title": null}}
        },
        {
          "data": {"values": [{}]},
          "mark": {"type": "rule", "color": "#e0e3eb", "strokeWidth": 2, "x2Offset": 164},
          "encoding": {"y": {"datum": 54226, "type": "quantitative", "title": null}}
        },
        {
          "data": {"values": [{}]},
          "mark": {"type": "rule", "color": "#f0f3fa", "strokeWidth": 2},
          "encoding": {"x": {"datum": 1766866440000, "type": "temporal", "axis": null, "title": null}}
        },
        {
          "data": {"values": [{}]},
          "mark": {"type": "rule", "color": "#f0f3fa", "strokeWidth": 2, "xOffset": 164},
          "encoding": {"x": {"value": "width"}}
        },
        {
          "data": {"name": "levels"},
          "mark": {"type": "rule", "color": "#e1e2e6", "strokeWidth": 5.5},
          "encoding": {
            "y": {
              "field": "price", "type": "quantitative", "title": null,
              "scale": {"type": "log", "domain": [54226, 115460], "nice": false, "zero": false},
              "axis": {"orient": "right", "values": [55600, 57200, 59000, 61000, 63000, 72000, 75000, 78000, 81000, 85000, 89000, 93000, 97000, 101000, 105000, 110000], "format": ",.2f", "labelFontSize": 22, "labelColor": "#131722", "labelFont": "Roboto", "labelPadding": 19, "ticks": false, "domain": false, "grid": false, "labelOverlap": false, "labelFlush": false, "title": null}
            }
          }
        },
        {
          "data": {"name": "ohlc"},
          "transform": [{"window": [{"op": "lag", "field": "close", "as": "prev"}], "sort": [{"field": "date"}]}],
          "mark": {"type": "rule", "strokeWidth": 1.5},
          "encoding": {
            "x": {"field": "date", "type": "temporal", "title": null, "axis": null,
                  "scale": {"type": "utc", "domain": [1766866440000, 1790095680000], "padding": 0}},
            "y": {"field": "low", "type": "quantitative", "title": null},
            "y2": {"field": "high"},
            "color": {"condition": {"test": "datum.close >= (datum.prev == null ? datum.open : datum.prev)", "value": "#2962ff"}, "value": "#f23645"}
          }
        },
        {
          "data": {"name": "ohlc"},
          "transform": [{"window": [{"op": "lag", "field": "close", "as": "prev"}], "sort": [{"field": "date"}]}],
          "mark": {"type": "bar", "size": 7, "strokeWidth": 1.3},
          "encoding": {
            "x": {"field": "date", "type": "temporal", "title": null, "axis": null},
            "y": {"field": "open", "type": "quantitative", "title": null},
            "y2": {"field": "close"},
            "fill": {"condition": [{"test": "datum.close >= datum.open", "value": "#ffffff"}, {"test": "datum.close >= (datum.prev == null ? datum.open : datum.prev)", "value": "#7597ff"}], "value": "#f36c78"},
            "stroke": {"condition": {"test": "datum.close >= (datum.prev == null ? datum.open : datum.prev)", "value": "#6b8dff"}, "value": "#f36c78"}
          }
        },
        {
          "data": {"name": "ma"},
          "mark": {"type": "line", "strokeWidth": 2, "interpolate": "monotone"},
          "encoding": {
            "x": {"field": "date", "type": "temporal", "title": null, "axis": null},
            "y": {"field": "value", "type": "quantitative", "title": null},
            "color": {"field": "series", "type": "nominal", "legend": null, "scale": {"domain": ["SMA 20", "SMA 50", "SMA 200"], "range": ["#000000", "#089981", "#f23645"]}}
          }
        },
        {
          "data": {"name": "levels"},
          "mark": {"type": "tick", "orient": "horizontal", "size": 124, "thickness": 30, "xOffset": 62, "color": "#b2b5be", "opacity": 1, "cornerRadius": 3},
          "encoding": {"x": {"value": "width"}, "y": {"field": "price", "type": "quantitative", "title": null}}
        },
        {
          "data": {"name": "levels"},
          "mark": {"type": "text", "align": "left", "baseline": "middle", "dx": 19, "fontSize": 22, "color": "#131722"},
          "encoding": {"x": {"value": "width"}, "y": {"field": "price", "type": "quantitative", "title": null}, "text": {"field": "price", "type": "quantitative", "format": ",.2f"}}
        },
        {
          "data": {"name": "ma"},
          "transform": [{"filter": "(datum.date == '2026-08-24' || time(datum.date) == utc(2026, 7, 24)) && datum.series != 'SMA 50'"}],
          "mark": {"type": "tick", "orient": "horizontal", "size": 124, "thickness": 30, "xOffset": 62, "opacity": 1, "cornerRadius": 3},
          "encoding": {"x": {"value": "width"}, "y": {"field": "value", "type": "quantitative", "title": null}, "color": {"field": "series", "type": "nominal", "legend": null}}
        },
        {
          "data": {"name": "ma"},
          "transform": [{"filter": "(datum.date == '2026-08-24' || time(datum.date) == utc(2026, 7, 24)) && datum.series == 'SMA 50'"}],
          "mark": {"type": "tick", "orient": "horizontal", "size": 124, "thickness": 30, "xOffset": 62, "yOffset": 30, "opacity": 1, "cornerRadius": 3, "color": "#089981"},
          "encoding": {"x": {"value": "width"}, "y": {"field": "value", "type": "quantitative", "title": null}}
        },
        {
          "data": {"name": "ma"},
          "transform": [{"filter": "(datum.date == '2026-08-24' || time(datum.date) == utc(2026, 7, 24)) && datum.series != 'SMA 50'"}],
          "mark": {"type": "text", "align": "left", "baseline": "middle", "dx": 19, "fontSize": 22, "fontWeight": 500, "color": "#ffffff"},
          "encoding": {"x": {"value": "width"}, "y": {"field": "value", "type": "quantitative", "title": null}, "text": {"field": "value", "type": "quantitative", "format": ",.2f"}}
        },
        {
          "data": {"name": "ma"},
          "transform": [{"filter": "(datum.date == '2026-08-24' || time(datum.date) == utc(2026, 7, 24)) && datum.series == 'SMA 50'"}],
          "mark": {"type": "text", "align": "left", "baseline": "middle", "dx": 19, "yOffset": 30, "fontSize": 22, "fontWeight": 500, "color": "#ffffff"},
          "encoding": {"x": {"value": "width"}, "y": {"field": "value", "type": "quantitative", "title": null}, "text": {"field": "value", "type": "quantitative", "format": ",.2f"}}
        },
        {
          "data": {"name": "ohlc"},
          "transform": [{"filter": "datum.date == '2026-08-24' || time(datum.date) == utc(2026, 7, 24)"}],
          "mark": {"type": "tick", "orient": "horizontal", "size": 124, "thickness": 57, "xOffset": 62, "yOffset": 15, "color": "#f23645", "opacity": 1, "cornerRadius": 3},
          "encoding": {"x": {"value": "width"}, "y": {"field": "close", "type": "quantitative", "title": null}}
        },
        {
          "data": {"name": "ohlc"},
          "transform": [{"filter": "datum.date == '2026-08-24' || time(datum.date) == utc(2026, 7, 24)"}],
          "mark": {"type": "tick", "orient": "horizontal", "size": 94, "thickness": 32, "xOffset": -47, "yOffset": 3, "color": "#f23645", "opacity": 1, "cornerRadius": 3},
          "encoding": {"x": {"value": "width"}, "y": {"field": "close", "type": "quantitative", "title": null}}
        },
        {
          "data": {"name": "ohlc"},
          "transform": [{"filter": "datum.date == '2026-08-24' || time(datum.date) == utc(2026, 7, 24)"}],
          "mark": {"type": "text", "align": "left", "baseline": "middle", "dx": 19, "fontSize": 22, "fontWeight": 500, "color": "#ffffff"},
          "encoding": {"x": {"value": "width"}, "y": {"field": "close", "type": "quantitative", "title": null}, "text": {"field": "close", "type": "quantitative", "format": ",.2f"}}
        },
        {
          "data": {"name": "ohlc"},
          "transform": [{"filter": "datum.date == '2026-08-24' || time(datum.date) == utc(2026, 7, 24)"}],
          "mark": {"type": "text", "align": "left", "baseline": "middle", "dx": 19, "yOffset": 25, "fontSize": 22, "color": "#ffd3d7", "text": "14:41:59"},
          "encoding": {"x": {"value": "width"}, "y": {"field": "close", "type": "quantitative", "title": null}}
        },
        {
          "data": {"name": "ohlc"},
          "transform": [{"filter": "datum.date == '2026-08-24' || time(datum.date) == utc(2026, 7, 24)"}],
          "mark": {"type": "text", "align": "center", "baseline": "middle", "dx": -47, "yOffset": 3, "fontSize": 21, "fontWeight": 500, "color": "#ffffff", "text": "BTCUSD"},
          "encoding": {"x": {"value": "width"}, "y": {"field": "close", "type": "quantitative", "title": null}}
        },
        {
          "data": {"values": [{}]},
          "mark": {"type": "text", "align": "left", "baseline": "middle", "fontSize": 23.3, "color": "#131722", "text": "BTCUSD · Bitcoin / U.S. Dollar · 1D · Capital.com"},
          "encoding": {
            "x": {"datum": 1767056400000, "type": "temporal", "axis": null, "title": null},
            "y": {"datum": 113733, "type": "quantitative", "title": null}
          }
        },
        {
          "data": {"values": [{}]},
          "mark": {"type": "text", "align": "center", "baseline": "alphabetic", "fontSize": 68, "color": "#4f4f4f", "font": "Roboto", "text": "BTCUSD, 1D"},
          "encoding": {
            "x": {"datum": 1778522400000, "type": "temporal", "axis": null, "title": null},
            "y": {"datum": 109746, "type": "quantitative", "title": null}
          }
        },
        {
          "data": {"values": [{}]},
          "mark": {"type": "text", "align": "center", "baseline": "alphabetic", "fontSize": 68, "color": "#4f4f4f", "font": "Roboto", "text": "Bitcoin/USD"},
          "encoding": {
            "x": {"datum": 1778522400000, "type": "temporal", "axis": null, "title": null},
            "y": {"datum": 103412, "type": "quantitative", "title": null}
          }
        },
        {
          "data": {"values": [{}]},
          "mark": {"type": "point", "shape": "M-1,0.55L-0.03,-0.55L0.03,-0.55L1,0.55Z", "filled": true, "size": 26896, "color": "#000000", "opacity": 1},
          "encoding": {
            "x": {"datum": 1784678400000, "type": "temporal", "axis": null, "title": null},
            "y": {"datum": 111301, "type": "quantitative", "title": null}
          }
        },
        {
          "data": {"values": [{}]},
          "mark": {"type": "point", "shape": "M-0.8,0.55L0.16,-0.28L0.21,-0.2L-0.68,0.55Z M-0.1,0.05L-0.02,-0.5L0.03,-0.45L-0.04,0.1Z", "filled": true, "size": 26896, "color": "#ffffff", "opacity": 1},
          "encoding": {
            "x": {"datum": 1784678400000, "type": "temporal", "axis": null, "title": null},
            "y": {"datum": 111301, "type": "quantitative", "title": null}
          }
        },
        {
          "data": {"values": [{}]},
          "mark": {"type": "text", "align": "left", "baseline": "alphabetic", "fontSize": 64, "font": "DejaVu Sans", "fontWeight": "bold", "color": "#000000", "text": "TheChartEdge"},
          "encoding": {
            "x": {"datum": 1785378600000, "type": "temporal", "axis": null, "title": null},
            "y": {"datum": 110022, "type": "quantitative", "title": null}
          }
        },
        {
          "data": {"values": [{}]},
          "mark": {"type": "text", "align": "left", "baseline": "alphabetic", "fontSize": 41, "font": "Inter", "fontWeight": 500, "color": "#000000", "text": "Daily SMA"},
          "encoding": {
            "x": {"datum": 1785291840000, "type": "temporal", "axis": null, "title": null},
            "y": {"datum": 55221, "type": "quantitative", "title": null}
          }
        },
        {
          "data": {"values": [{}]},
          "mark": {"type": "text", "align": "left", "baseline": "alphabetic", "fontSize": 41, "font": "Inter", "fontWeight": 500, "color": "#000000", "text": "20"},
          "encoding": {
            "x": {"datum": 1787178840000, "type": "temporal", "axis": null, "title": null},
            "y": {"datum": 55221, "type": "quantitative", "title": null}
          }
        },
        {
          "data": {"values": [{}]},
          "mark": {"type": "text", "align": "center", "baseline": "alphabetic", "fontSize": 41, "font": "Inter", "fontWeight": 700, "color": "#787b86", "text": "·"},
          "encoding": {
            "x": {"datum": 1787820780000, "type": "temporal", "axis": null, "title": null},
            "y": {"datum": 55221, "type": "quantitative", "title": null}
          }
        },
        {
          "data": {"values": [{}]},
          "mark": {"type": "text", "align": "left", "baseline": "alphabetic", "fontSize": 41, "font": "Inter", "fontWeight": 500, "color": "#089981", "text": "50"},
          "encoding": {
            "x": {"datum": 1788054060000, "type": "temporal", "axis": null, "title": null},
            "y": {"datum": 55221, "type": "quantitative", "title": null}
          }
        },
        {
          "data": {"values": [{}]},
          "mark": {"type": "text", "align": "center", "baseline": "alphabetic", "fontSize": 41, "font": "Inter", "fontWeight": 700, "color": "#787b86", "text": "·"},
          "encoding": {
            "x": {"datum": 1788709800000, "type": "temporal", "axis": null, "title": null},
            "y": {"datum": 55221, "type": "quantitative", "title": null}
          }
        },
        {
          "data": {"values": [{}]},
          "mark": {"type": "text", "align": "left", "baseline": "alphabetic", "fontSize": 41, "font": "Inter", "fontWeight": 500, "color": "#e91e63", "text": "200"},
          "encoding": {
            "x": {"datum": 1788937200000, "type": "temporal", "axis": null, "title": null},
            "y": {"datum": 55221, "type": "quantitative", "title": null}
          }
        }
      ]
    },
    {
      "width": 2788,
      "height": 306,
      "layer": [
        {
          "data": {"name": "ohlc"},
          "mark": {"type": "bar", "size": 9.3},
          "encoding": {
            "x": {"field": "date", "type": "temporal", "title": null,
                  "scale": {"type": "utc", "domain": [1766866440000, 1790095680000], "padding": 0},
                  "axis": {"orient": "bottom", "values": [{"year": 2026, "month": 1, "date": 1, "utc": true}, {"year": 2026, "month": 2, "date": 1, "utc": true}, {"year": 2026, "month": 3, "date": 1, "utc": true}, {"year": 2026, "month": 4, "date": 1, "utc": true}, {"year": 2026, "month": 5, "date": 1, "utc": true}, {"year": 2026, "month": 6, "date": 1, "utc": true}, {"year": 2026, "month": 7, "date": 1, "utc": true}, {"year": 2026, "month": 8, "date": 1, "utc": true}, {"year": 2026, "month": 9, "date": 1, "utc": true}],
                           "labelExpr": "utcmonth(datum.value) == 0 ? '2026' : utcFormat(datum.value, '%b')", "labelFontSize": 22, "labelColor": "#131722", "labelFont": "Roboto", "labelPadding": 18, "ticks": false, "domain": false, "grid": false, "labelFlush": false, "labelOverlap": false, "title": null}},
            "y": {"field": "volume", "type": "quantitative", "title": null,
                  "scale": {"domain": [-82500, 1015100], "nice": false, "zero": false},
                  "axis": {"orient": "right", "values": [0, 500000, 750000], "format": ",.2f", "labelFontSize": 22, "labelColor": "#131722", "labelFont": "Roboto", "labelPadding": 19, "ticks": false, "domain": false, "grid": false, "labelOverlap": false, "labelFlush": false, "title": null}},
            "y2": {"datum": 0},
            "color": {"condition": {"test": "datum.close >= datum.open", "value": "#7a9bff"}, "value": "#f38b95"}
          }
        },
        {
          "data": {"name": "vma"},
          "mark": {"type": "line", "color": "#3b3b3b", "strokeWidth": 2, "opacity": 0.85},
          "encoding": {
            "x": {"field": "date", "type": "temporal", "title": null},
            "y": {"field": "value", "type": "quantitative", "title": null}
          }
        },
        {
          "data": {"name": "vma"},
          "transform": [{"filter": "datum.date == '2026-08-24' || time(datum.date) == utc(2026, 7, 24)"}],
          "mark": {"type": "tick", "orient": "horizontal", "size": 137, "thickness": 28, "xOffset": 68.5, "yOffset": -11, "color": "#000000", "opacity": 1, "cornerRadius": 3},
          "encoding": {"x": {"value": "width"}, "y": {"field": "value", "type": "quantitative", "title": null}}
        },
        {
          "data": {"name": "vma"},
          "transform": [{"filter": "datum.date == '2026-08-24' || time(datum.date) == utc(2026, 7, 24)"}],
          "mark": {"type": "text", "align": "left", "baseline": "middle", "dx": 19, "yOffset": -11, "fontSize": 22, "fontWeight": 500, "color": "#ffffff"},
          "encoding": {"x": {"value": "width"}, "y": {"field": "value", "type": "quantitative", "title": null}, "text": {"field": "value", "type": "quantitative", "format": ",.2f"}}
        },
        {
          "data": {"name": "ohlc"},
          "transform": [{"filter": "datum.date == '2026-08-24' || time(datum.date) == utc(2026, 7, 24)"}],
          "mark": {"type": "tick", "orient": "horizontal", "size": 137, "thickness": 28, "xOffset": 68.5, "color": "#f7525f", "opacity": 1, "cornerRadius": 3},
          "encoding": {"x": {"value": "width"}, "y": {"field": "volume", "type": "quantitative", "title": null}}
        },
        {
          "data": {"name": "ohlc"},
          "transform": [{"filter": "datum.date == '2026-08-24' || time(datum.date) == utc(2026, 7, 24)"}],
          "mark": {"type": "text", "align": "left", "baseline": "middle", "dx": 19, "fontSize": 22, "fontWeight": 500, "color": "#ffffff"},
          "encoding": {"x": {"value": "width"}, "y": {"field": "volume", "type": "quantitative", "title": null}, "text": {"field": "volume", "type": "quantitative", "format": ",.2f"}}
        },
        {
          "data": {"values": [{}]},
          "mark": {"type": "rule", "color": "#f0f3fa", "strokeWidth": 2, "x2Offset": 164},
          "encoding": {"y": {"datum": -279786, "type": "quantitative", "title": null}}
        },
        {
          "data": {"values": [{}]},
          "mark": {"type": "rule", "color": "#f0f3fa", "strokeWidth": 2},
          "encoding": {"x": {"datum": 1766866440000, "type": "temporal", "title": null}, "y": {"datum": -279786, "type": "quantitative", "title": null}, "y2": {"datum": 1015100}}
        },
        {
          "data": {"values": [{}]},
          "mark": {"type": "rule", "color": "#f0f3fa", "strokeWidth": 2, "xOffset": 164},
          "encoding": {"x": {"value": "width"}, "y": {"datum": -279786, "type": "quantitative", "title": null}, "y2": {"datum": 1015100}}
        },
        {
          "data": {"values": [{}]},
          "mark": {"type": "point", "shape": "M-1,-0.52H-0.32V0.52H-0.64V-0.08H-1Z M-0.22,-0.3A0.2,0.2,0,1,0,0.18,-0.3A0.2,0.2,0,1,0,-0.22,-0.3Z M0.36,-0.52H1L0.56,0.52H-0.1Z", "filled": true, "size": 3136, "color": "#131722", "opacity": 1},
          "encoding": {
            "x": {"datum": 1767199680000, "type": "temporal", "title": null},
            "y": {"datum": -480658, "type": "quantitative", "title": null}
          }
        },
        {
          "data": {"values": [{}]},
          "mark": {"type": "text", "align": "left", "baseline": "alphabetic", "fontSize": 40, "fontWeight": "bold", "font": "Roboto", "color": "#131722", "text": "TradingView"},
          "encoding": {
            "x": {"datum": 1767553920000, "type": "temporal", "title": null},
            "y": {"datum": -530876, "type": "quantitative", "title": null}
          }
        }
      ]
    }
  ]
}
